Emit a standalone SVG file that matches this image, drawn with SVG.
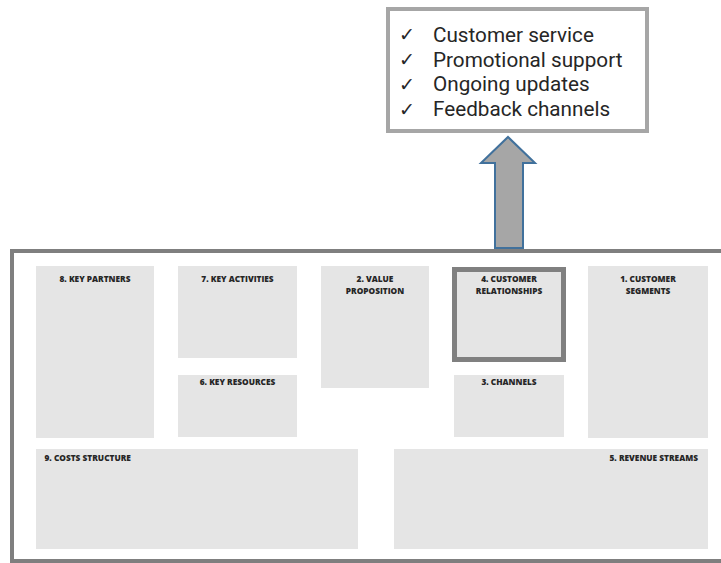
<svg xmlns="http://www.w3.org/2000/svg" width="721" height="563" viewBox="0 0 721 563">
  <style>
    .block { fill: #e5e5e5; }
    .lbl { font-family: "Open Sans", "Liberation Sans", sans-serif; font-weight: 800; font-size: 8.3px; fill: #262626; }
    .item { font-family: Roboto, "Liberation Sans", sans-serif; font-size: 20.7px; fill: #262626; }
    .check { font-family: "DejaVu Sans", sans-serif; font-size: 19px; fill: #262626; }
  </style>

  <!-- canvas frame -->
  <rect x="0" y="0" width="721" height="563" fill="#ffffff"/>
  <rect id="canvas" x="12" y="251" width="720" height="310" fill="#ffffff" stroke="#7f7f7f" stroke-width="4"/>

  <!-- highlighted block's detail list -->
  <g id="details">
    <rect x="388" y="9" width="259" height="122" fill="#ffffff" stroke="#a6a6a6" stroke-width="4"/>
    <text class="check" x="399" y="41">✓</text>
    <text class="check" x="399" y="66">✓</text>
    <text class="check" x="399" y="91">✓</text>
    <text class="check" x="399" y="116">✓</text>
    <text class="item" x="433" y="42">Customer service</text>
    <text class="item" x="433" y="67">Promotional support</text>
    <text class="item" x="433" y="91">Ongoing updates</text>
    <text class="item" x="433" y="116">Feedback channels</text>
  </g>

  <!-- connector -->
  <g id="connectors">
    <path d="M495,248 L495,163 L481,163 L508,137 L535,163 L523,163 L523,248 Z" fill="#a6a6a6" stroke="#41719c" stroke-width="2" stroke-linejoin="miter"/>
  </g>

  <g id="key-partners">
    <rect class="block" x="36" y="266" width="118" height="172"/>
    <text class="lbl" x="95" y="281.5" text-anchor="middle">8. KEY PARTNERS</text>
  </g>

  <g id="key-activities">
    <rect class="block" x="178" y="266" width="119" height="92"/>
    <text class="lbl" x="237.5" y="281.5" text-anchor="middle">7. KEY ACTIVITIES</text>
  </g>

  <g id="key-resources">
    <rect class="block" x="178" y="375" width="119" height="62"/>
    <text class="lbl" x="237.5" y="384.5" text-anchor="middle">6. KEY RESOURCES</text>
  </g>

  <g id="value-proposition">
    <rect class="block" x="321" y="266" width="108" height="122"/>
    <text class="lbl" x="375" y="281.5" text-anchor="middle">2. VALUE</text>
    <text class="lbl" x="375" y="293.5" text-anchor="middle">PROPOSITION</text>
  </g>

  <g id="customer-relationships">
    <rect class="block" x="454.5" y="269.5" width="109" height="90" stroke="#808080" stroke-width="5"/>
    <text class="lbl" x="509" y="281.5" text-anchor="middle">4. CUSTOMER</text>
    <text class="lbl" x="509" y="293.5" text-anchor="middle">RELATIONSHIPS</text>
  </g>

  <g id="channels">
    <rect class="block" x="454" y="375" width="110" height="62"/>
    <text class="lbl" x="509" y="384.5" text-anchor="middle">3. CHANNELS</text>
  </g>

  <g id="customer-segments">
    <rect class="block" x="588" y="266" width="120" height="172"/>
    <text class="lbl" x="648" y="281.5" text-anchor="middle">1. CUSTOMER</text>
    <text class="lbl" x="648" y="293.5" text-anchor="middle">SEGMENTS</text>
  </g>

  <g id="costs-structure">
    <rect class="block" x="36" y="449" width="322" height="100"/>
    <text class="lbl" x="44.5" y="460.5">9. COSTS STRUCTURE</text>
  </g>

  <g id="revenue-streams">
    <rect class="block" x="394" y="449" width="314" height="100"/>
    <text class="lbl" x="698" y="460.5" text-anchor="end">5. REVENUE STREAMS</text>
  </g>
</svg>
